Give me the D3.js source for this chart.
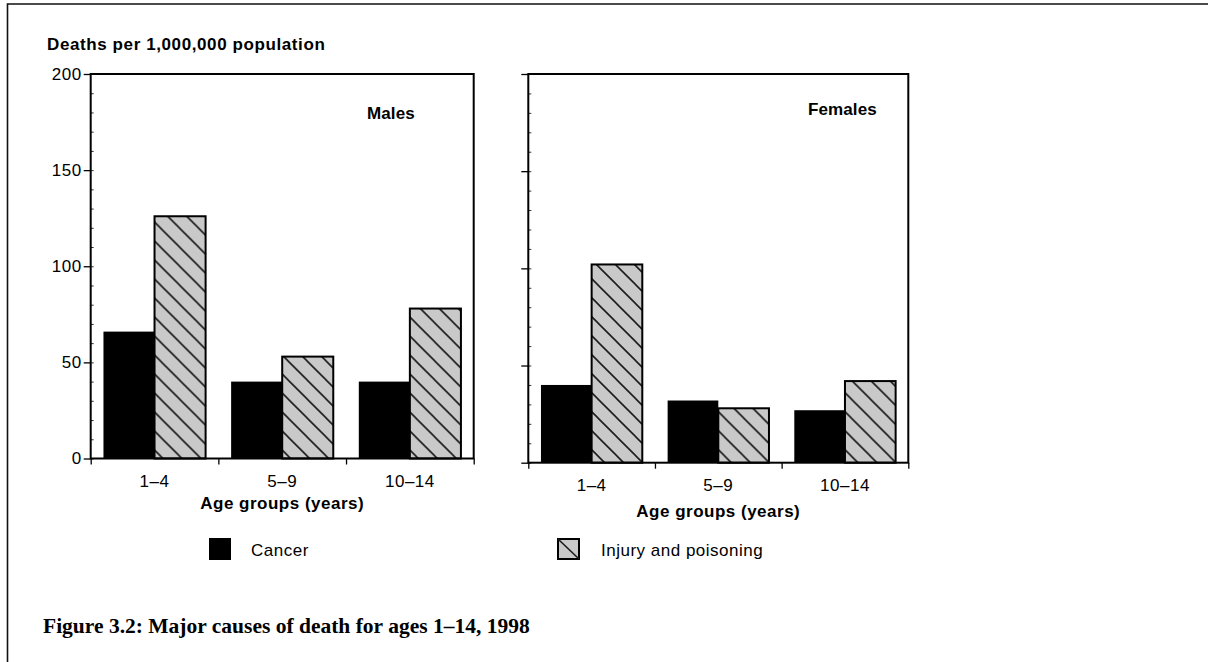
<!DOCTYPE html>
<html>
<head>
<meta charset="utf-8">
<script src="https://cdn.jsdelivr.net/npm/d3@7"></script>
<style>
  body { margin: 0; background: #fff; }
  svg { display: block; font-family: Arial, "Liberation Sans", sans-serif; }
</style>
</head>
<body>
<div id="chart"></div>
<script>
// values (deaths per 1,000,000 population)
const ageGroups = ['1–4', '5–9', '10–14'];
const causes = ['Cancer', 'Injury and poisoning'];
const maleCancer = [66, 40, 40];
const maleInjury = [126, 53, 78];
const femaleCancer = [40, 32, 27];
const femaleInjury = [102, 28, 42];
const yTicks = [0, 50, 100, 150, 200];

const width = 1208;
const height = 662;

const svg = d3.select('#chart')
  .append('svg')
  .attr('width', width)
  .attr('height', height);

const defs = svg.append('defs');
const hatch = defs.append('pattern')
  .attr('id', 'hatch')
  .attr('patternUnits', 'userSpaceOnUse')
  .attr('width', 19)
  .attr('height', 19);
hatch.append('rect')
  .attr('width', 19)
  .attr('height', 19)
  .attr('fill', '#c9c9c9');
hatch.append('path')
  .attr('d', 'M0,0L19,19M-2,17L2,21M17,-2L21,2')
  .attr('stroke', '#1a1a1a')
  .attr('stroke-width', 1.6);

// page frame
svg.append('path')
  .attr('d', `M7.5,${height}V4H${width}`)
  .attr('fill', 'none')
  .attr('stroke', '#111')
  .attr('stroke-width', 1.6);

const panels = [
  {
    title: 'Males', cancer: maleCancer, injury: maleInjury, labels: true,
    x0: 90.7, x1: 473.7, yTop: 74, yZero: 458.5, titleX: 367, titleY: 119, xTitleY: 509,
  },
  {
    title: 'Females', cancer: femaleCancer, injury: femaleInjury, labels: false,
    x0: 528.3, x1: 908.3, yTop: 74, yZero: 462.7, titleX: 808, titleY: 115, xTitleY: 517,
  },
];

const styleText = (sel) => sel
  .attr('font-size', 17)
  .attr('font-family', 'Arial, "Liberation Sans", sans-serif')
  .attr('letter-spacing', 0.5)
  .attr('fill', '#000');

const drawPanel = (p) => {
  const x = d3.scaleBand()
    .domain(ageGroups)
    .range([p.x0, p.x1])
    .paddingInner(0.2)
    .paddingOuter(0.1);

  const xSub = d3.scaleBand()
    .domain(causes)
    .range([0, x.bandwidth()]);

  const y = d3.scaleLinear()
    .domain([0, 200])
    .range([p.yZero, p.yTop]);

  const edges = d3.scaleLinear()
    .domain([0, ageGroups.length])
    .range([p.x0, p.x1]);

  const rows = ageGroups.map((g, i) => ({
    group: g,
    values: [
      { cause: causes[0], value: p.cancer[i] },
      { cause: causes[1], value: p.injury[i] },
    ],
  }));

  const g = svg.append('g');

  g.append('g')
    .selectAll('g')
    .data(rows)
    .join('g')
    .attr('transform', (d) => `translate(${x(d.group)},0)`)
    .selectAll('rect')
    .data((d) => d.values)
    .join('rect')
    .attr('x', (d) => xSub(d.cause))
    .attr('y', (d) => y(d.value))
    .attr('width', xSub.bandwidth())
    .attr('height', (d) => y(0) - y(d.value))
    .attr('fill', (d) => (d.cause === causes[0] ? '#000' : 'url(#hatch)'))
    .attr('stroke', (d) => (d.cause === causes[0] ? 'none' : '#000'))
    .attr('stroke-width', 2);

  // minor ticks inside the axis
  g.append('g')
    .attr('transform', `translate(${p.x0},0)`)
    .call(d3.axisLeft(y).tickValues(d3.range(0, 201, 10)).tickSize(-3).tickFormat(''))
    .call((a) => a.select('.domain').remove())
    .call((a) => a.selectAll('line').attr('stroke', '#333'));

  // major y ticks
  g.append('g')
    .attr('transform', `translate(${p.x0},0)`)
    .call(d3.axisLeft(y).tickValues(yTicks).tickSize(7).tickPadding(2)
      .tickFormat(p.labels ? d3.format('d') : ''))
    .call((a) => a.select('.domain').remove())
    .call((a) => a.selectAll('line').attr('stroke', '#000').attr('stroke-width', 1.3))
    .call((a) => a.selectAll('text').call(styleText));

  // group boundary ticks
  g.append('g')
    .attr('transform', `translate(0,${p.yZero})`)
    .call(d3.axisBottom(edges).tickValues(d3.range(0, ageGroups.length + 1)).tickSize(6).tickFormat(''))
    .call((a) => a.select('.domain').remove())
    .call((a) => a.selectAll('line').attr('stroke', '#000').attr('stroke-width', 1.3));

  // category labels
  g.append('g')
    .attr('transform', `translate(0,${p.yZero})`)
    .call(d3.axisBottom(x).tickSize(0).tickPadding(16))
    .call((a) => a.select('.domain').remove())
    .call((a) => a.selectAll('text').call(styleText));

  // plot box
  g.append('rect')
    .attr('x', p.x0)
    .attr('y', p.yTop)
    .attr('width', p.x1 - p.x0)
    .attr('height', p.yZero - p.yTop)
    .attr('fill', 'none')
    .attr('stroke', '#000')
    .attr('stroke-width', 2);

  g.append('text')
    .attr('x', p.titleX)
    .attr('y', p.titleY)
    .attr('font-size', 17)
    .attr('font-weight', 'bold')
    .attr('letter-spacing', 0.1)
    .text(p.title);

  g.append('text')
    .attr('x', (p.x0 + p.x1) / 2)
    .attr('y', p.xTitleY)
    .attr('text-anchor', 'middle')
    .attr('font-size', 17)
    .attr('font-weight', 'bold')
    .attr('letter-spacing', 0.5)
    .text('Age groups (years)');
};

panels.forEach(drawPanel);

svg.append('text')
  .attr('x', 47)
  .attr('y', 50)
  .attr('font-size', 17)
  .attr('font-weight', 'bold')
  .attr('letter-spacing', 0.6)
  .text('Deaths per 1,000,000 population');

// legend
const legend = svg.append('g')
  .attr('font-size', 17)
  .attr('letter-spacing', 0.5);

legend.append('rect')
  .attr('x', 209)
  .attr('y', 538)
  .attr('width', 22)
  .attr('height', 22)
  .attr('fill', '#000');
legend.append('text')
  .attr('x', 251)
  .attr('y', 555.5)
  .text(causes[0]);

legend.append('rect')
  .attr('x', 558)
  .attr('y', 539)
  .attr('width', 21)
  .attr('height', 20)
  .attr('fill', '#c9c9c9')
  .attr('stroke', '#000')
  .attr('stroke-width', 2);
legend.append('line')
  .attr('x1', 558)
  .attr('y1', 539)
  .attr('x2', 579)
  .attr('y2', 559)
  .attr('stroke', '#1a1a1a')
  .attr('stroke-width', 1.6);
legend.append('text')
  .attr('x', 601)
  .attr('y', 555.5)
  .text(causes[1]);

svg.append('text')
  .attr('x', 43)
  .attr('y', 633)
  .attr('font-family', '"Liberation Serif", "DejaVu Serif", serif')
  .attr('font-size', 21.5)
  .attr('font-weight', 'bold')
  .text('Figure 3.2: Major causes of death for ages 1–14, 1998');
</script>
</body>
</html>
